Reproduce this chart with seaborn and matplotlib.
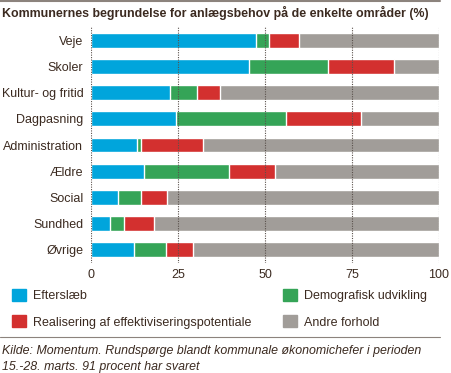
import pandas as pd
import matplotlib
matplotlib.use('Agg')
import matplotlib.pyplot as plt
import seaborn as sns
from matplotlib.patches import Patch
from matplotlib.lines import Line2D

# Data (percent of answers per area)
categories = ["Veje", "Skoler", "Kultur- og fritid", "Dagpasning", "Administration",
              "Ældre", "Social", "Sundhed", "Øvrige"]
efterslaeb = [47.3, 45.3, 22.6, 24.4, 13.2, 15.1, 7.7, 5.5, 12.4]
demografi = [3.9, 22.8, 7.9, 31.5, 1.1, 24.6, 6.6, 4.0, 9.2]
realisering = [8.5, 18.9, 6.7, 21.8, 18.0, 13.3, 7.4, 8.5, 7.7]
andre = [40.3, 13.0, 62.8, 22.3, 67.7, 47.0, 78.3, 82.0, 70.7]

series_names = ["Efterslæb", "Demografisk udvikling",
                "Realisering af effektiviseringspotentiale", "Andre forhold"]
colors = ["#00a5dc", "#35a457", "#d3302f", "#a19d99"]
text_col = "#3b2a20"

df = pd.DataFrame({"omraade": categories, "e": efterslaeb, "d": demografi,
                   "r": realisering, "a": andre})
# cumulative ends for stacking
df["c1"] = df["e"]
df["c2"] = df["c1"] + df["d"]
df["c3"] = df["c2"] + df["r"]
df["c4"] = df["c3"] + df["a"]

sns.set_theme(style="white")
plt.rcParams['font.family'] = ['Liberation Sans', 'DejaVu Sans']
plt.rcParams['text.color'] = text_col

fig = plt.figure(figsize=(4.51, 3.73), dpi=100)
ax = fig.add_axes([91 / 451, 1 - 263 / 373, 348 / 451, 236 / 373])

# draw longest first so the shorter segments sit on top
for col, c in zip(["c4", "c3", "c2", "c1"], colors[::-1]):
    sns.barplot(data=df, x=col, y="omraade", orient="h", color=c,
                width=0.57, saturation=1, ax=ax, zorder=2)

ax.set_xlim(0, 100)
ax.set_ylim(8.5, -0.5)
ax.set_xticks([0, 25, 50, 75, 100])
ax.set_xlabel("")
ax.set_ylabel("")
for s in ax.spines.values():
    s.set_visible(False)
ax.tick_params(axis="both", length=0, labelsize=9, colors=text_col, pad=4)
ax.tick_params(axis="y", pad=5.5)
for xv in [0, 25, 50, 75, 100]:
    ax.axvline(xv, color="#5a514c", lw=0.8, ls=(0, (1, 1.2)), zorder=3)

# title and rules
fig.text(2 / 451, 1 - 13 / 373, "Kommunernes begrundelse for anlægsbehov på de enkelte områder (%)",
         fontsize=8.9, fontweight="bold", va="center", ha="left", color=text_col)
fig.add_artist(Line2D([0, 440 / 451], [1 - 1 / 373, 1 - 1 / 373], color="#8c837d", lw=1.5))
fig.add_artist(Line2D([0, 440 / 451], [1 - 337 / 373, 1 - 337 / 373], color="#8c837d", lw=0.8))

handles = [Patch(color=colors[0], label=series_names[0]),
           Patch(color=colors[2], label=series_names[2]),
           Patch(color=colors[1], label=series_names[1]),
           Patch(color=colors[3], label=series_names[3])]
fig.legend(handles=handles, ncol=2, loc="upper left",
           bbox_to_anchor=(12 / 451, 1 - 289 / 373), frameon=False,
           fontsize=9, handlelength=1.1, handleheight=1.1, handletextpad=0.6,
           labelspacing=1.05, columnspacing=2.5, borderpad=0, borderaxespad=0)

fig.text(2 / 451, 1 - 351 / 373,
         "Kilde: Momentum. Rundspørge blandt kommunale økonomichefer i perioden",
         fontsize=8.9, style="italic", va="center", ha="left", color=text_col)
fig.text(2 / 451, 1 - 367 / 373, "15.-28. marts. 91 procent har svaret",
         fontsize=8.9, style="italic", va="center", ha="left", color=text_col)

fig.savefig("out.png", dpi=100)
